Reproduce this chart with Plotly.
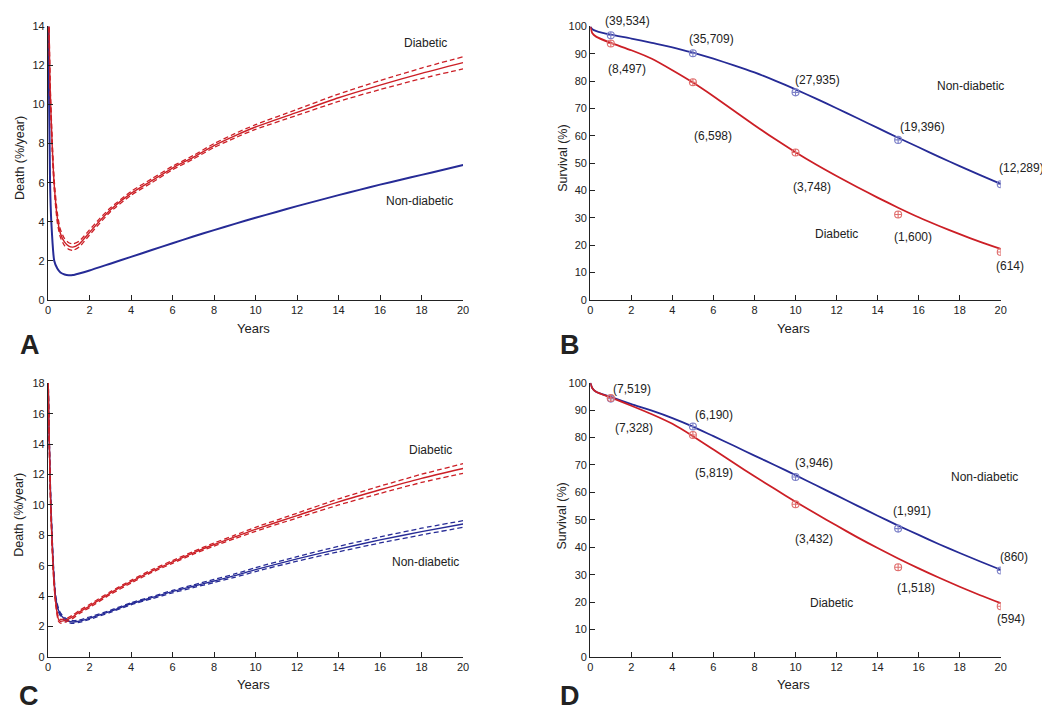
import plotly.graph_objects as go

# ---------------- DATA ----------------
# Panel A: hazard of death (%/year)
tA_dia = [0, 0.05, 0.1, 0.2, 0.3, 0.45, 0.6, 0.8, 1.0, 1.2, 1.5, 2, 2.5, 3, 4, 5, 6, 7, 8, 9, 10, 12, 14, 16, 18, 20]
A_dia = [16, 14, 11, 8, 5.9, 4.2, 3.4, 2.95, 2.75, 2.7, 2.85, 3.45, 4.05, 4.6, 5.45, 6.1, 6.75, 7.3, 7.9, 8.4, 8.85, 9.6, 10.35, 11.0, 11.6, 12.15]
A_dia_hi = [16.4, 14.4, 11.3, 8.3, 6.15, 4.45, 3.6, 3.13, 2.92, 2.87, 3.0, 3.58, 4.17, 4.7, 5.55, 6.2, 6.84, 7.39, 8.0, 8.51, 8.97, 9.75, 10.54, 11.23, 11.87, 12.45]
A_dia_lo = [15.6, 13.6, 10.7, 7.7, 5.65, 3.95, 3.2, 2.77, 2.58, 2.53, 2.7, 3.32, 3.93, 4.5, 5.35, 6.0, 6.66, 7.21, 7.8, 8.29, 8.73, 9.45, 10.16, 10.77, 11.33, 11.83]
tA_non = [0, 0.02, 0.1, 0.16, 0.3, 0.45, 0.6, 0.8, 1.0, 1.2, 1.5, 2, 3, 4, 5, 6, 7, 8, 9, 10, 11, 12, 13, 14, 15, 16, 17, 18, 19, 20]
A_non = [16, 14, 6, 4, 2.0, 1.6, 1.4, 1.3, 1.26, 1.27, 1.35, 1.5, 1.85, 2.2, 2.55, 2.9, 3.24, 3.57, 3.89, 4.2, 4.5, 4.8, 5.08, 5.36, 5.63, 5.9, 6.15, 6.4, 6.65, 6.9]

# Panel C: hazard of death (%/year)
tC = [0, 0.05, 0.13, 0.25, 0.37, 0.5, 0.6, 0.8, 1.0, 1.2, 1.5, 2, 3, 4, 5, 6, 7, 8, 9, 10, 12, 14, 16, 18, 20]
C_dia = [19, 15, 10, 5.8, 3.6, 2.5, 2.35, 2.4, 2.5, 2.65, 2.95, 3.35, 4.2, 4.95, 5.65, 6.25, 6.85, 7.4, 7.9, 8.4, 9.3, 10.2, 11.0, 11.75, 12.4]
C_dia_hi = [19.3, 15.3, 10.25, 6.0, 3.75, 2.63, 2.47, 2.52, 2.61, 2.76, 3.05, 3.45, 4.29, 5.04, 5.74, 6.34, 6.94, 7.5, 8.01, 8.53, 9.46, 10.4, 11.24, 12.02, 12.72]
C_dia_lo = [18.7, 14.7, 9.75, 5.6, 3.45, 2.37, 2.23, 2.28, 2.39, 2.54, 2.85, 3.25, 4.11, 4.86, 5.56, 6.16, 6.76, 7.3, 7.79, 8.27, 9.14, 10.0, 10.76, 11.48, 12.08]
C_non = [19, 15, 10.5, 6.2, 3.9, 3.1, 2.8, 2.5, 2.35, 2.3, 2.35, 2.55, 3.0, 3.5, 3.9, 4.3, 4.65, 5.0, 5.35, 5.75, 6.45, 7.1, 7.7, 8.25, 8.75]
C_non_hi = [19.3, 15.3, 10.7, 6.4, 4.05, 3.22, 2.9, 2.6, 2.44, 2.39, 2.43, 2.63, 3.07, 3.57, 3.97, 4.38, 4.74, 5.1, 5.46, 5.88, 6.6, 7.28, 7.9, 8.47, 8.97]
C_non_lo = [18.7, 14.7, 10.3, 6.0, 3.75, 2.98, 2.7, 2.4, 2.26, 2.21, 2.27, 2.47, 2.93, 3.43, 3.83, 4.22, 4.56, 4.9, 5.24, 5.62, 6.3, 6.92, 7.5, 8.03, 8.53]

# Panels B and D: survival (%)
tS = [0, 0.1, 0.3, 1, 2, 3, 4, 5, 6, 7, 8, 9, 10, 11, 12, 13, 14, 15, 16, 17, 18, 19, 20]
B_non = [100, 99.0, 98.3, 97.0, 95.6, 94.0, 92.4, 90.4, 88.2, 85.8, 83.2, 80.2, 77.0, 73.6, 70.1, 66.5, 62.9, 59.3, 55.8, 52.3, 48.9, 45.6, 42.4]
B_dia = [100, 97.5, 96.2, 94.0, 91.3, 88.2, 84.0, 79.5, 74.5, 69.2, 63.9, 58.8, 54.0, 49.5, 45.3, 41.3, 37.4, 33.7, 30.2, 27.0, 24.0, 21.2, 18.6]
D_non = [100, 98.0, 96.6, 94.8, 92.2, 89.8, 87.1, 84.0, 80.5, 77.0, 73.4, 69.9, 66.3, 62.6, 58.9, 55.2, 51.5, 47.9, 44.5, 41.1, 37.9, 34.8, 31.8]
D_dia = [100, 98.0, 96.6, 94.6, 91.6, 88.5, 85.0, 80.5, 75.6, 70.7, 65.9, 61.2, 56.6, 52.2, 47.9, 43.7, 39.7, 35.9, 32.3, 28.9, 25.6, 22.5, 19.6]

t_obs = [1, 5, 10, 15, 20]
B_non_obs = [96.8, 90.2, 75.9, 58.5, 42.3]
B_dia_obs = [93.8, 79.6, 53.9, 31.2, 17.5]
D_non_obs = [94.2, 84.0, 65.6, 46.8, 31.5]
D_dia_obs = [94.4, 80.9, 55.7, 32.7, 18.5]

B_non_n = ["(39,534)", "(35,709)", "(27,935)", "(19,396)", "(12,289)"]
B_dia_n = ["(8,497)", "(6,598)", "(3,748)", "(1,600)", "(614)"]
D_non_n = ["(7,519)", "(6,190)", "(3,946)", "(1,991)", "(860)"]
D_dia_n = ["(7,328)", "(5,819)", "(3,432)", "(1,518)", "(594)"]

x_ticks = [0, 2, 4, 6, 8, 10, 12, 14, 16, 18, 20]

# ---------------- STYLE / LAYOUT ----------------
RED = "#cc1f26"
BLUE = "#262b96"
RED_M = "#e0706f"
BLUE_M = "#7c80c8"
FONT = "Liberation Sans, Arial, sans-serif"
W, H = 1050, 712

def dom_x(a, b):
    return [a / W, b / W]

def dom_y(top, bottom):
    return [1 - bottom / H, 1 - top / H]

fig = go.Figure()

def line(x, y, color, ax, dash=None, width=1.6):
    fig.add_trace(go.Scatter(
        x=x, y=y, mode="lines", xaxis=ax[0], yaxis=ax[1],
        line=dict(color=color, width=width, dash=dash, shape="spline", smoothing=0.6),
        showlegend=False, hoverinfo="skip"))

def pts(x, y, color, ax):
    fig.add_trace(go.Scatter(
        x=x, y=y, mode="markers", xaxis=ax[0], yaxis=ax[1],
        marker=dict(symbol="circle-cross-open", size=7, color=color, line=dict(width=1.1, color=color)),
        showlegend=False, hoverinfo="skip"))

DASH = "5px,3px"
# A
line(tA_non, A_non, BLUE, ("x", "y"), width=2.0)
line(tA_dia, A_dia_hi, RED, ("x", "y"), dash=DASH, width=1.3)
line(tA_dia, A_dia_lo, RED, ("x", "y"), dash=DASH, width=1.3)
line(tA_dia, A_dia, RED, ("x", "y"), width=1.4)
# B
line(tS, B_non, BLUE, ("x2", "y2"), width=1.8)
line(tS, B_dia, RED, ("x2", "y2"), width=1.8)
pts(t_obs, B_non_obs, BLUE_M, ("x2", "y2"))
pts(t_obs, B_dia_obs, RED_M, ("x2", "y2"))
# C
line(tC, C_non_hi, BLUE, ("x3", "y3"), dash=DASH, width=1.3)
line(tC, C_non_lo, BLUE, ("x3", "y3"), dash=DASH, width=1.3)
line(tC, C_non, BLUE, ("x3", "y3"), width=1.4)
line(tC, C_dia_hi, RED, ("x3", "y3"), dash=DASH, width=1.3)
line(tC, C_dia_lo, RED, ("x3", "y3"), dash=DASH, width=1.3)
line(tC, C_dia, RED, ("x3", "y3"), width=1.4)
# D
line(tS, D_non, BLUE, ("x4", "y4"), width=1.8)
line(tS, D_dia, RED, ("x4", "y4"), width=1.8)
pts(t_obs, D_non_obs, BLUE_M, ("x4", "y4"))
pts(t_obs, D_dia_obs, RED_M, ("x4", "y4"))

axis_common = dict(showline=True, linecolor="#222", linewidth=1.3, ticks="inside",
                   ticklen=5, tickwidth=1.2, tickcolor="#222", showgrid=False, zeroline=False,
                   tickfont=dict(family=FONT, size=11, color="#222"), fixedrange=True)

xA = dom_x(37.3, 456)
xB = dom_x(584.3, 998.3)
yTop = dom_y(12.7, 290.7)
yC = dom_y(375.7, 654)
yD = dom_y(375, 654)

panels = {
    "A": (xA, yTop, [0, 20], [0, 14]),
    "B": (xB, yTop, [0, 20], [0, 100]),
    "C": (xA, yC, [0, 20], [0, 18]),
    "D": (xB, yD, [0, 20], [0, 100]),
}

fig.update_layout(
    width=W, height=H, margin=dict(l=0, r=0, t=0, b=0),
    plot_bgcolor="white", paper_bgcolor="white",
    font=dict(family=FONT, color="#222"),
    xaxis=dict(domain=xA, range=[0, 20], tickvals=x_ticks, anchor="y", **axis_common),
    yaxis=dict(domain=yTop, range=[0, 14], dtick=2, anchor="x", **axis_common),
    xaxis2=dict(domain=xB, range=[0, 20], tickvals=x_ticks, anchor="y2", **axis_common),
    yaxis2=dict(domain=yTop, range=[0, 100], dtick=10, anchor="x2", **axis_common),
    xaxis3=dict(domain=xA, range=[0, 20], tickvals=x_ticks, anchor="y3", **axis_common),
    yaxis3=dict(domain=yC, range=[0, 18], dtick=2, anchor="x3", **axis_common),
    xaxis4=dict(domain=xB, range=[0, 20], tickvals=x_ticks, anchor="y4", **axis_common),
    yaxis4=dict(domain=yD, range=[0, 100], dtick=10, anchor="x4", **axis_common),
)

ann = []
def txt(text, x, y, panel=None, size=12, angle=0, bold=False):
    if panel is None:
        px, py = x / W, 1 - y / H
    else:
        dx, dy, rx, ry = panels[panel]
        px = dx[0] + (x - rx[0]) / (rx[1] - rx[0]) * (dx[1] - dx[0])
        py = dy[0] + (y - ry[0]) / (ry[1] - ry[0]) * (dy[1] - dy[0])
    ann.append(dict(text=("<b>%s</b>" % text) if bold else text, x=px, y=py, xref="paper", yref="paper",
                    showarrow=False, textangle=angle, xanchor="center", yanchor="middle",
                    font=dict(family=FONT, size=size, color="#222")))

# axis titles
for (cx, cy) in [(245, 320), (789, 320), (245, 682), (789, 682)]:
    txt("Years", cx, cy, size=13)
txt("Death (%/year)", 8.5, 146, size=12.5, angle=-90)
txt("Death (%/year)", 8.5, 509, size=12.5, angle=-90)
txt("Survival (%)", 556, 147, size=12.5, angle=-90)
txt("Survival (%)", 556, 511, size=12.5, angle=-90)
# panel letters
for (lab, cx, cy) in [("A", 19, 337), ("B", 564, 337), ("C", 18, 694), ("D", 564, 694)]:
    txt(lab, cx, cy, size=27, bold=True)

# group labels
txt("Diabetic", 18.2, 13.13, "A")
txt("Non-diabetic", 17.9, 5.04, "A")
txt("Diabetic", 18.44, 13.62, "C")
txt("Non-diabetic", 18.2, 6.27, "C")
txt("Non-diabetic", 18.55, 78.2, "B")
txt("Diabetic", 11.98, 24.2, "B")
txt("Non-diabetic", 19.19, 65.7, "D")
txt("Diabetic", 11.74, 19.8, "D")

# numbers at risk
B_non_pos = [(1.80, 101.9), (5.91, 95.6), (11.06, 80.6), (16.18, 63.2), (21.0, 48.2)]
B_dia_pos = [(1.77, 84.4), (5.96, 59.8), (10.82, 41.2), (15.73, 23.0), (20.43, 12.2)]
D_non_pos = [(2.05, 97.8), (6.04, 88.3), (10.90, 70.7), (15.70, 53.2), (20.64, 36.6)]
D_dia_pos = [(2.13, 83.3), (6.04, 67.1), (10.90, 42.9), (15.85, 25.0), (20.48, 13.7)]
for labels, pos, pn in [(B_non_n, B_non_pos, "B"), (B_dia_n, B_dia_pos, "B"),
                        (D_non_n, D_non_pos, "D"), (D_dia_n, D_dia_pos, "D")]:
    for lab, (px, py) in zip(labels, pos):
        txt(lab, px, py, pn)

fig.update_layout(annotations=ann)
fig.write_html("out.html")
